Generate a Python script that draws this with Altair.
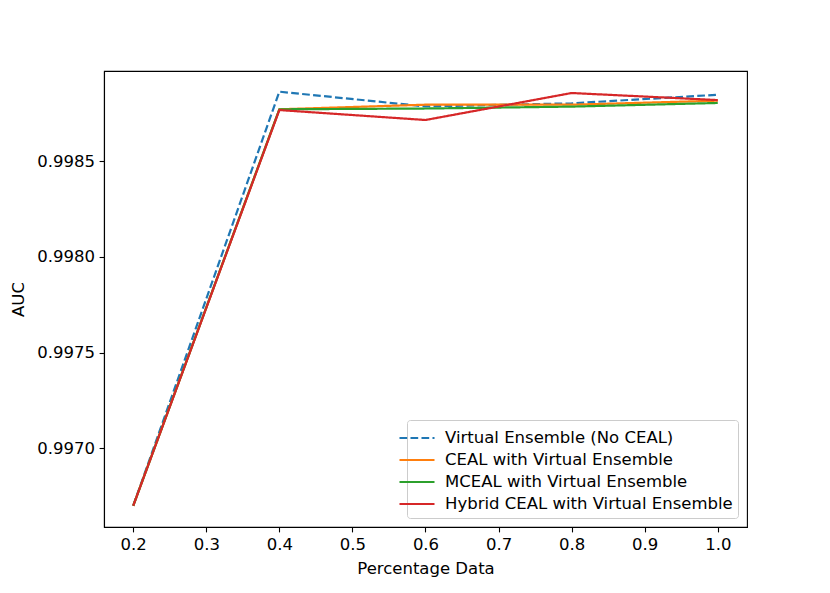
import altair as alt
import pandas as pd

pct = [0.2, 0.4, 0.6, 0.8, 1.0]
series_names = [
    "Virtual Ensemble (No CEAL)",
    "CEAL with Virtual Ensemble",
    "MCEAL with Virtual Ensemble",
    "Hybrid CEAL with Virtual Ensemble",
]
ve = [0.99670, 0.998863, 0.998786, 0.998802, 0.998847]
ceal = [0.99670, 0.998771, 0.998795, 0.998795, 0.998816]
mceal = [0.99670, 0.998771, 0.998775, 0.998785, 0.998804]
hybrid = [0.99670, 0.998767, 0.998715, 0.998856, 0.998819]
colors = ["#1f77b4", "#ff7f0e", "#2ca02c", "#d62728"]
dashes = [[7.7, 3.3], [1, 0], [1, 0], [1, 0]]
x_ticks = [0.2, 0.3, 0.4, 0.5, 0.6, 0.7, 0.8, 0.9, 1.0]
y_ticks = [0.9970, 0.9975, 0.9980, 0.9985]

rows = []
for name, vals in zip(series_names, [ve, ceal, mceal, hybrid]):
    for p, v in zip(pct, vals):
        rows.append({"Percentage Data": p, "AUC": v, "series": name})
df = pd.DataFrame(rows)

FS = 16.5
color_scale = alt.Scale(domain=series_names, range=colors)
dash_scale = alt.Scale(domain=series_names, range=dashes)

legend = alt.Legend(
    title=None,
    orient="bottom-right",
    offset=9,
    symbolType="M-1.5,0H1.5",
    symbolSize=545,
    symbolStrokeWidth=2.2,
    symbolOffset=-8,
    labelFont="DejaVu Sans",
    labelFontSize=FS,
    labelColor="black",
    labelOffset=15,
    labelLimit=400,
    padding=5,
    rowPadding=0,
    strokeColor="#cccccc",
    fillColor="rgba(255,255,255,0.8)",
    cornerRadius=3,
)

layers = []
for i, name in enumerate(series_names):
    layers.append(
        alt.Chart(df)
        .transform_filter(alt.datum.series == name)
        .mark_line(strokeWidth=2.2, clip=True)
        .encode(
            x=alt.X(
                "Percentage Data:Q",
                scale=alt.Scale(domain=[0.16, 1.04], nice=False, zero=False),
                axis=alt.Axis(values=x_ticks, format=".1f", title="Percentage Data"),
            ),
            y=alt.Y(
                "AUC:Q",
                scale=alt.Scale(domain=[0.996589, 0.998971], nice=False, zero=False),
                axis=alt.Axis(values=y_ticks, format=".4f", title="AUC"),
            ),
            color=alt.Color("series:N", scale=color_scale, legend=legend, title=None),
            strokeDash=alt.StrokeDash("series:N", scale=dash_scale, legend=legend, title=None),
        )
    )

chart = (
    alt.layer(*layers)
    .properties(
        width=643,
        height=456,
        autosize=alt.AutoSizeParams(type="none"),
        padding={"left": 96, "top": 63, "right": 40, "bottom": 60},
        background="white",
    )
    .configure_view(stroke="black", strokeWidth=1.1)
    .configure_axis(
        grid=False,
        domainColor="black",
        domainWidth=1.1,
        tickColor="black",
        tickSize=4.9,
        tickWidth=1.1,
        labelFont="DejaVu Sans",
        labelFontSize=FS,
        labelColor="black",
        labelPadding=4.5,
        titleFont="DejaVu Sans",
        titleFontSize=FS,
        titleFontWeight="normal",
        titleColor="black",
    )
    .configure_axisX(titlePadding=8)
    .configure_axisY(titlePadding=10)
)

chart.save("out.html", embed_options={"renderer": "svg", "actions": False})
